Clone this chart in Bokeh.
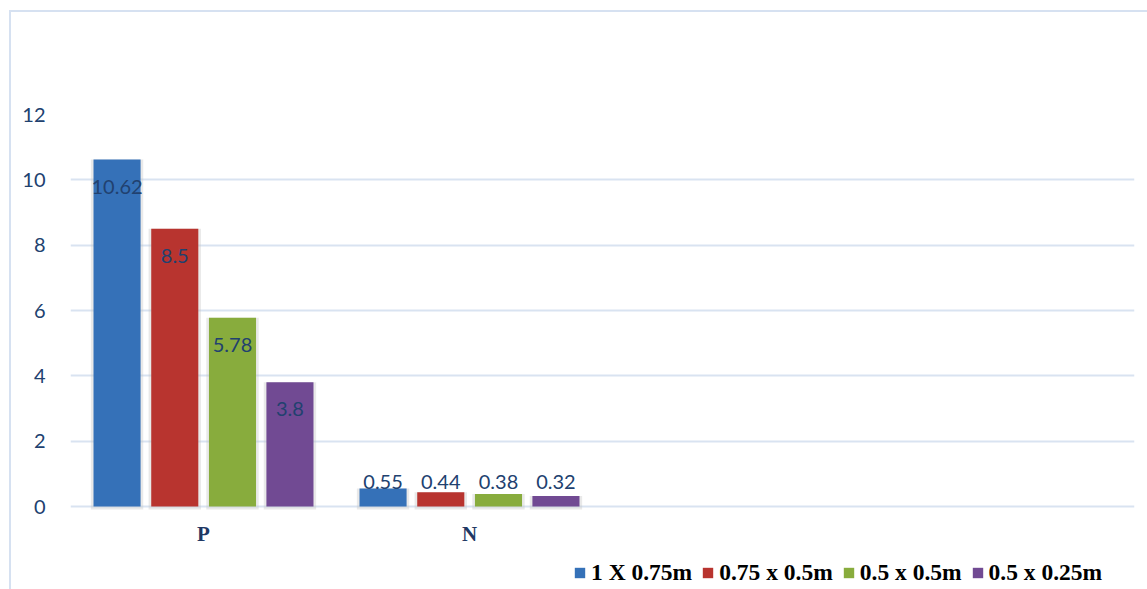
from bokeh.plotting import figure
from bokeh.models import (FactorRange, Range1d, ColumnDataSource, Legend, LegendItem,
                          LabelSet, FixedTicker)
from bokeh.transform import dodge
from bokeh.core.properties import value
from bokeh.embed import file_html
from bokeh.resources import INLINE

# ---- data ----
categories = ["P", "N", " ", "  "]
groups = ["P", "N"]
series_names = ["1 X 0.75m", "0.75 x 0.5m", "0.5 x 0.5m", "0.5 x 0.25m"]
spacing_1x075 = [10.62, 0.55]
spacing_075x05 = [8.5, 0.44]
spacing_05x05 = [5.78, 0.38]
spacing_05x025 = [3.8, 0.32]
y_ticks = [0, 2, 4, 6, 8, 10, 12]

series_values = [spacing_1x075, spacing_075x05, spacing_05x05, spacing_05x025]
colors = ["#3571b8", "#b8342f", "#88ac3d", "#714a93"]
offsets = [-0.325, -0.108, 0.109, 0.325]
bar_w = 0.177

TEXT_BLUE = "#21416f"

# the plotting frame reaches down to the bottom of the chart so that the
# category labels and the legend sit inside it, under the zero line
PX_PER_UNIT = 392 / 12
y_bottom = -83 / PX_PER_UNIT

p = figure(x_range=FactorRange(*categories), y_range=Range1d(y_bottom, 12),
           frame_width=1064, frame_height=475,
           min_border_left=59, min_border_top=102, min_border_right=13,
           min_border_bottom=0,
           output_backend="svg", toolbar_location=None)
p.styles = {"margin-left": "9px", "margin-top": "10px",
            "border-left": "2px solid #d6e1f1", "border-top": "2px solid #d6e1f1"}
p.outline_line_color = None
p.background_fill_color = "white"

# grid
p.xgrid.grid_line_color = None
p.ygrid.grid_line_color = "#d9e3f1"
p.ygrid.grid_line_width = 2
p.yaxis.ticker = FixedTicker(ticks=y_ticks)

# axes
p.xaxis.visible = False
p.yaxis.axis_line_color = None
p.yaxis.major_tick_line_color = None
p.yaxis.minor_tick_line_color = None
p.yaxis.major_label_text_font = "Lato"
p.yaxis.major_label_text_font_size = "20px"
p.yaxis.major_label_text_color = TEXT_BLUE
p.yaxis.major_label_standoff = 19

# category labels under the zero line
cat_src = ColumnDataSource(dict(x=groups, y=[0] * len(groups), text=groups))
p.add_layout(LabelSet(x="x", y="y", text="text", source=cat_src, y_offset=-27,
                      text_align="center", text_baseline="middle",
                      text_font=value("Liberation Serif"), text_font_style="bold",
                      text_font_size="21px", text_color="#1f3864"))

legend_items = []
for name, vals, col, off in zip(series_names, series_values, colors, offsets):
    label_y = [v if v > 1 else 0 for v in vals]
    label_off = [-27 if v > 1 else 25 for v in vals]
    src = ColumnDataSource(dict(x=groups, top=vals,
                                text=[f"{v:g}" for v in vals],
                                label_y=label_y, label_off=label_off))
    xs = dodge("x", off, range=p.x_range)
    # soft shadow behind each bar
    p.vbar(x=xs, top="top", bottom=-0.09, width=bar_w + 0.02, source=src,
           fill_color="#bfbfbf", fill_alpha=0.35, line_color=None)
    r = p.vbar(x=xs, top="top", width=bar_w, source=src,
               fill_color=col, line_color=None)
    legend_items.append(LegendItem(label=name, renderers=[r]))
    p.add_layout(LabelSet(x=xs, y="label_y", text="text", source=src,
                          y_offset="label_off", text_align="center",
                          text_baseline="middle", text_font=value("Lato"),
                          text_font_size="20px", text_color=TEXT_BLUE))

legend = Legend(items=legend_items, orientation="horizontal",
                location=(503, 3), margin=0, padding=2, spacing=9,
                glyph_width=13, glyph_height=13, label_standoff=5,
                label_text_font="Liberation Serif", label_text_font_style="bold",
                label_text_font_size="23.5px", label_text_color="black",
                border_line_color=None, background_fill_alpha=0)
p.add_layout(legend)

open("out.html", "w").write(file_html(p, INLINE))
